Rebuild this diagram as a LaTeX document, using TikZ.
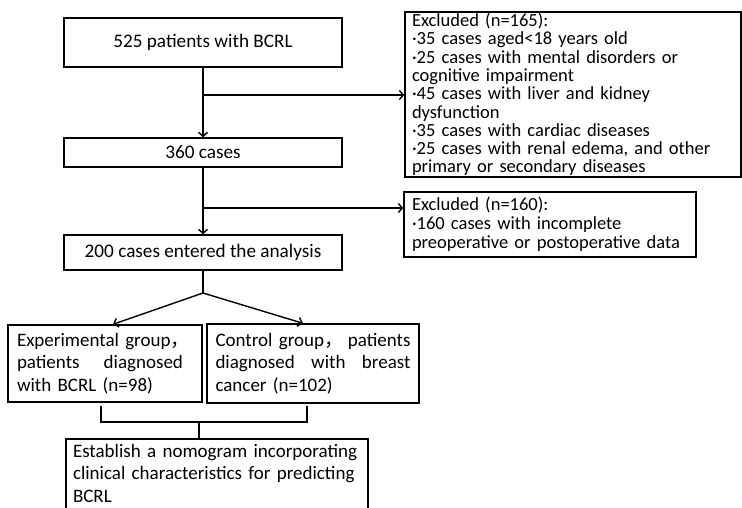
\documentclass[tikz,border=0pt]{standalone}
\usepackage{fontspec}
\setmainfont{Carlito}
\newfontfamily\cjk{Noto Sans CJK SC}
\usetikzlibrary{arrows.meta,calc}
\begin{document}
\begin{tikzpicture}[x=1pt,y=-1pt,
  box/.style={draw,line width=1.4pt,inner sep=0pt},
  fs/.style={font=\fontsize{18.5}{18.3}\selectfont},
  fm/.style={font=\fontsize{19.2}{22}\selectfont},
  fb/.style={font=\fontsize{19}{22.5}\selectfont},
  conn/.style={line width=1.4pt},
  arr/.style={conn,-{Straight Barb[length=4pt,width=9pt,line width=1.4pt]}}]
\clip (0,0) rectangle (742,507);
\fill[white] (0,0) rectangle (742,507);
% main column
\node[box,fm,minimum width=278pt,minimum height=49pt] (b1) at (203,42.5) {525 patients with BCRL};
\node[box,fm,minimum width=278pt,minimum height=29pt] (b2) at (203,152.5) {360 cases};
\node[box,fm,minimum width=278pt,minimum height=35pt] (b3) at (203,252.5) {200 cases entered the analysis};
% exclusion boxes
\node[box,fs,minimum width=336pt,minimum height=165pt,text width=322pt,align=left,
  inner xsep=7pt] (e1) at (573,94.5)
  {Excluded (n=165):\\
   ·35 cases aged<18 years old\\
   ·25 cases with mental disorders or\\
   cognitive impairment\\
   ·45 cases with liver and kidney\\
   dysfunction\\
   ·35 cases with cardiac diseases\\
   ·25 cases with renal edema, and other\\
   primary or secondary diseases};
\node[box,font=\fontsize{18.5}{19}\selectfont,minimum width=292pt,minimum height=65pt,text width=276pt,align=left,
  inner xsep=8pt] (e2) at (550,224.5)
  {Excluded (n=160):\\
   ·160 cases with incomplete\\
   preoperative or postoperative data};
% groups
\node[box,fb,minimum width=194pt,minimum height=77pt,text width=176pt,align=left] (exp) at (105,363.5)
  {Experimental group{\cjk ，}\\
   \makebox[166pt][s]{patients\hfill diagnosed}\\
   with BCRL (n=98)};
\node[box,fb,minimum width=212pt,minimum height=79pt,text width=195pt,align=left] (ctrl) at (313,363.5)
  {Control group{\cjk ，}\hfill patients\\
   diagnosed\hfill with\hfill breast\\
   cancer (n=102)};
% final (bottom edge lies below the picture)
\coordinate (ftl) at (66,439);
\coordinate (ftr) at (368,439);
\coordinate (fbl) at (66,512);
\coordinate (fbr) at (368,512);
\draw[conn] (fbl) -- (ftl) -- (ftr) -- (fbr);
\node[fb,inner sep=0pt,text width=288pt,align=left] (fin) at (217,473)
  {Establish a nomogram incorporating\\
   clinical characteristics for predicting\\
   BCRL};
% connectors
\coordinate (j1) at (203,95);
\coordinate (j2) at (203,208);
\coordinate (s) at (203,293);
\coordinate (m) at (199,422);
\draw[arr] (b1.south) -- (b2.north);
\draw[arr] (j1) -- (e1.west |- j1);
\draw[arr] (b2.south) -- (b3.north);
\draw[arr] (j2) -- (e2.west |- j2);
\draw[conn] (b3.south) -- (s);
\draw[arr] (s) -- ([xshift=8pt]exp.north);
\draw[arr] (s) -- ([xshift=-10pt]ctrl.north);
\draw[conn] ([shift={(-4,3)}]exp.south) |- (m) -| ([shift={(-6,2)}]ctrl.south);
\draw[conn] (m) -- (ftl -| m);
\end{tikzpicture}
\end{document}
